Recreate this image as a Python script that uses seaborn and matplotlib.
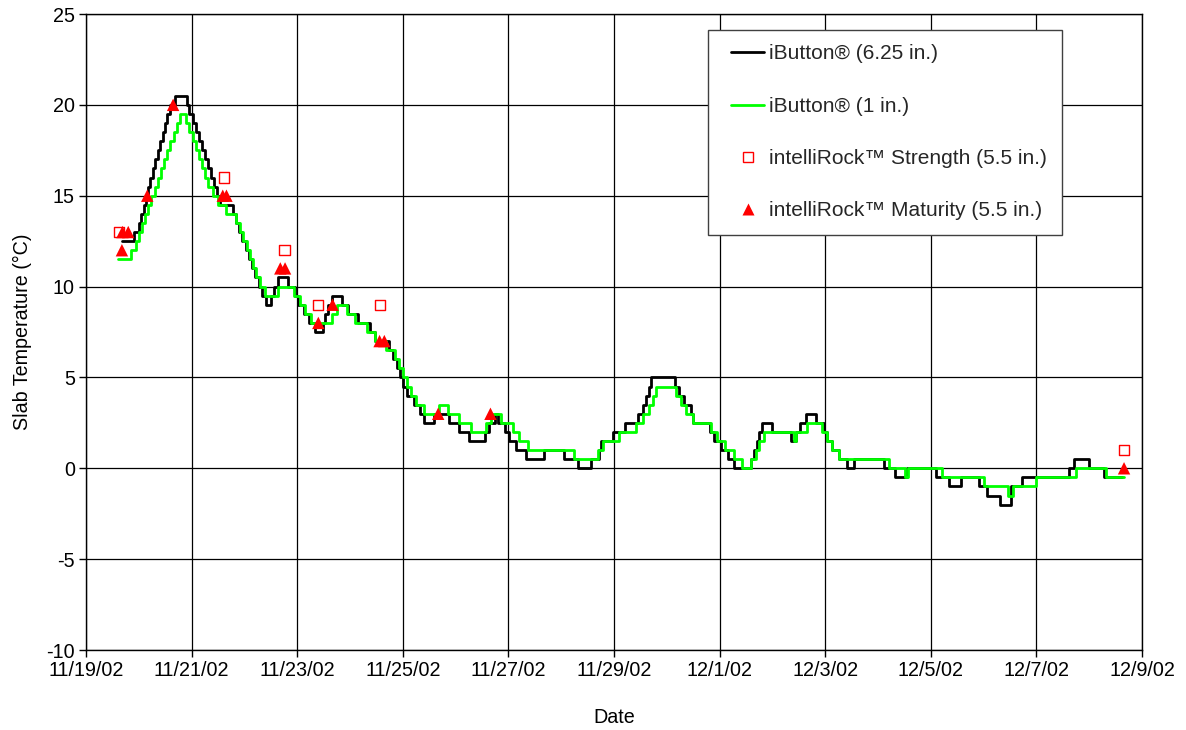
import numpy as np
import pandas as pd
import matplotlib
matplotlib.use('Agg')
import matplotlib.pyplot as plt
from matplotlib.ticker import FixedLocator
import matplotlib.dates as mdates
from matplotlib.lines import Line2D
from matplotlib.legend_handler import HandlerLine2D
import seaborn as sns

# ---------------- data (days after 11/19/02 00:00, step changes) ----------------
start_date = '2002-11-19'
x_tick_dates = ['2002-11-19', '2002-11-21', '2002-11-23', '2002-11-25', '2002-11-27',
                '2002-11-29', '2002-12-01', '2002-12-03', '2002-12-05', '2002-12-07',
                '2002-12-09']
x_tick_labels = ['11/19/02', '11/21/02', '11/23/02', '11/25/02', '11/27/02',
                 '11/29/02', '12/1/02', '12/3/02', '12/5/02', '12/7/02', '12/9/02']
y_ticks = [-10, -5, 0, 5, 10, 15, 20, 25]

# iButton (6.25 in.)
deep_days = [0.68, 0.91, 1.01, 1.05, 1.09, 1.13, 1.17, 1.22, 1.26, 1.31, 1.36, 1.40,
             1.45, 1.50, 1.54, 1.59, 1.686, 1.907, 1.96, 2.02, 2.08, 2.14, 2.19, 2.25,
             2.31, 2.37, 2.42, 2.48, 2.54, 2.78, 2.84, 2.90, 2.96, 3.03, 3.09, 3.15,
             3.21, 3.27, 3.34, 3.40, 3.50, 3.57, 3.64, 3.83, 3.96, 4.02, 4.12, 4.23,
             4.34, 4.49, 4.53, 4.59, 4.66, 4.84, 4.97, 5.16, 5.38, 5.47, 5.73, 5.82,
             5.89, 5.94, 6.00, 6.08, 6.22, 6.32, 6.41, 6.60, 6.88, 7.07, 7.26, 7.55,
             7.64, 7.74, 7.80, 7.93, 8.02, 8.15, 8.34, 8.68, 9.06, 9.31, 9.57, 9.72,
             9.75, 9.98, 10.20, 10.45, 10.55, 10.61, 10.67, 10.70, 11.15, 11.24, 11.33,
             11.46, 11.49, 11.81, 11.90, 12.02, 12.15, 12.27, 12.59, 12.65, 12.71,
             12.74, 12.81, 13.00, 13.36, 13.44, 13.53, 13.63, 13.82, 13.98, 14.04,
             14.13, 14.26, 14.42, 14.54, 15.11, 15.33, 15.55, 16.09, 16.34, 16.57,
             16.91, 17.07, 17.31, 17.51, 17.73, 18.62, 18.71, 19.00, 19.28, 19.63]
deep_temps = [12.5, 13, 13.5, 14, 14.5, 15, 15.5, 16, 16.5, 17, 17.5, 18,
              18.5, 19, 19.5, 20, 20.5, 20, 19.5, 19, 18.5, 18, 17.5, 17,
              16.5, 16, 15.5, 15, 14.5, 14, 13.5, 13, 12.5, 12, 11.5, 11,
              10.5, 10, 9.5, 9, 9.5, 10, 10.5, 10, 9.5, 9, 8.5, 8,
              7.5, 8, 8.5, 9, 9.5, 9, 8.5, 8, 7.5, 7, 6.5, 6,
              5.5, 5, 4.5, 4, 3.5, 3, 2.5, 3, 2.5, 2, 1.5, 2,
              2.5, 3, 2.5, 2, 1.5, 1, 0.5, 1, 0.5, 0, 0.5, 1,
              1.5, 2, 2.5, 3, 3.5, 4, 4.5, 5, 4.5, 4, 3.5,
              3, 2.5, 2, 1.5, 1, 0.5, 0, 0.5, 1, 1.5,
              2, 2.5, 2, 1.5, 2, 2.5, 3, 2.5, 2, 1.5,
              1, 0.5, 0, 0.5, 0, -0.5, 0, -0.5, -1, -0.5,
              -1, -1.5, -2, -1, -0.5, 0, 0.5, 0, -0.5, -0.5]

# iButton (1 in.)
shallow_days = [0.61, 0.85, 0.95, 1.01, 1.06, 1.12, 1.18, 1.24, 1.30, 1.36, 1.42, 1.48,
                1.54, 1.60, 1.66, 1.72, 1.78, 1.89, 1.96, 2.02, 2.08, 2.14, 2.20, 2.26,
                2.32, 2.40, 2.50, 2.66, 2.85, 2.92, 2.98, 3.04, 3.10, 3.16, 3.22, 3.29,
                3.39, 3.64, 3.93, 4.05, 4.15, 4.27, 4.65, 4.75, 4.94, 5.10, 5.32, 5.47,
                5.69, 5.85, 5.93, 6.01, 6.08, 6.16, 6.25, 6.41, 6.69, 6.85, 7.07, 7.29,
                7.58, 7.67, 7.86, 8.08, 8.21, 8.37, 9.25, 9.69, 9.79, 10.10, 10.42, 10.55,
                10.67, 10.73, 10.80, 11.18, 11.27, 11.37, 11.49, 11.83, 11.96, 12.11,
                12.27, 12.43, 12.59, 12.68, 12.74, 12.84, 13.41, 13.44, 13.66, 13.94,
                14.04, 14.13, 14.26, 15.21, 15.52, 15.57, 16.22, 17.00, 17.47, 17.55,
                17.99, 18.75, 19.31, 19.66]
shallow_temps = [11.5, 12, 12.5, 13, 13.5, 14, 14.5, 15, 15.5, 16, 16.5, 17,
                 17.5, 18, 18.5, 19, 19.5, 19, 18.5, 18, 17.5, 17, 16.5, 16,
                 15.5, 15, 14.5, 14, 13.5, 13, 12.5, 12, 11.5, 11, 10.5, 10,
                 9.5, 10, 9.5, 9, 8.5, 8, 8.5, 9, 8.5, 8, 7.5, 7,
                 6.5, 6, 5.5, 5, 4.5, 4, 3.5, 3, 3.5, 3, 2.5, 2,
                 2.5, 3, 2.5, 2, 1.5, 1, 0.5, 1, 1.5, 2, 2.5, 3,
                 3.5, 4, 4.5, 4, 3.5, 3, 2.5, 2, 1.5, 1,
                 0.5, 0, 0.5, 1, 1.5, 2, 1.5, 2, 2.5, 2,
                 1.5, 1, 0.5, 0, -0.5, 0, -0.5, -1, -1.5, -1,
                 -0.5, 0, -0.5, -0.5]

# intelliRock Strength (5.5 in.)
strength_days = [0.62, 2.61, 3.76, 4.40, 5.57, 19.66]
strength_temps = [13, 16, 12, 9, 9, 1]

# intelliRock Maturity (5.5 in.)
maturity_days = [0.68, 0.69, 0.80, 1.16, 1.65, 2.59, 2.66, 3.68, 3.77, 4.40, 4.67,
                 5.56, 5.65, 6.67, 7.66, 19.66]
maturity_temps = [12, 13, 13, 15, 20, 15, 15, 11, 11, 8, 9, 7, 7, 3, 3, 0]

series_labels = ['iButton\u00ae (6.25 in.)', 'iButton\u00ae (1 in.)',
                 'intelliRock\u2122 Strength (5.5 in.)', 'intelliRock\u2122 Maturity (5.5 in.)']

# ---------------- build frames ----------------
base = pd.Timestamp(start_date)


def to_dates(days):
    return base + pd.to_timedelta(np.asarray(days, dtype=float), unit='D')


deep = pd.DataFrame({'date': to_dates(deep_days), 'temp': deep_temps})
shallow = pd.DataFrame({'date': to_dates(shallow_days), 'temp': shallow_temps})
strength = pd.DataFrame({'date': to_dates(strength_days), 'temp': strength_temps})
maturity = pd.DataFrame({'date': to_dates(maturity_days), 'temp': maturity_temps})

sns.set_theme(style='ticks')
plt.rcParams['font.family'] = ['Liberation Sans', 'DejaVu Sans']

W, H = 1186, 730
fig = plt.figure(figsize=(W / 100, H / 100), dpi=100)
ax = fig.add_axes([86 / W, 1 - 650 / H, 1056 / W, 636 / H])

GREEN = '#00FF00'
sns.lineplot(data=deep, x='date', y='temp', ax=ax, color='black', lw=2.0,
             drawstyle='steps-post', estimator=None, sort=False, zorder=3)
sns.lineplot(data=shallow, x='date', y='temp', ax=ax, color=GREEN, lw=2.0,
             drawstyle='steps-post', estimator=None, sort=False, zorder=4)
sns.scatterplot(data=strength, x='date', y='temp', ax=ax, marker='s', s=55,
                color='red', zorder=5)
coll = ax.collections[-1]
coll.set_facecolor('none')
coll.set_edgecolor('red')
coll.set_linewidth(1.0)
sns.scatterplot(data=maturity, x='date', y='temp', ax=ax, marker='^', s=80,
                color='red', edgecolor='none', zorder=6)

# ---------------- axes ----------------
FS = 14.2
x_ticks = mdates.date2num(pd.to_datetime(x_tick_dates))
ax.set_xlim(x_ticks[0], x_ticks[-1])
ax.xaxis.set_major_locator(FixedLocator(x_ticks))
ax.set_xticklabels(x_tick_labels)
ax.set_ylim(-10, 25)
ax.set_yticks(y_ticks)
ax.set_yticklabels([str(v) for v in y_ticks])

ax.grid(True, color='black', lw=0.9)
ax.set_axisbelow(True)
for sp in ax.spines.values():
    sp.set_visible(True)
    sp.set_color('black')
    sp.set_linewidth(1.0)
ax.tick_params(direction='out', length=5, width=1, color='black',
               labelsize=FS, labelcolor='black', pad=3)
ax.set_xlabel('Date', fontsize=FS, color='black', labelpad=20)
ax.set_ylabel('Slab Temperature (\u00b0C)', fontsize=FS, color='black', labelpad=10)

handles = [
    Line2D([], [], color='black', lw=2.0),
    Line2D([], [], color=GREEN, lw=2.0),
    Line2D([], [], ls='none', marker='s', mfc='none', mec='red', mew=1.0, ms=7),
    Line2D([], [], ls='none', marker='^', color='red', mec='none', ms=8.5),
]
leg = ax.legend(handles, series_labels, loc='upper left',
                bbox_to_anchor=(0.589, 0.975), fontsize=15, frameon=True,
                fancybox=False, framealpha=1, edgecolor='#404040',
                labelspacing=1.6, handlelength=2.0, handletextpad=0.25,
                borderpad=0.7, borderaxespad=0,
                handler_map={Line2D: HandlerLine2D(xpad=0.4)})
leg.get_frame().set_linewidth(1.0)
leg.set_zorder(10)

fig.savefig('out.png', dpi=100)
